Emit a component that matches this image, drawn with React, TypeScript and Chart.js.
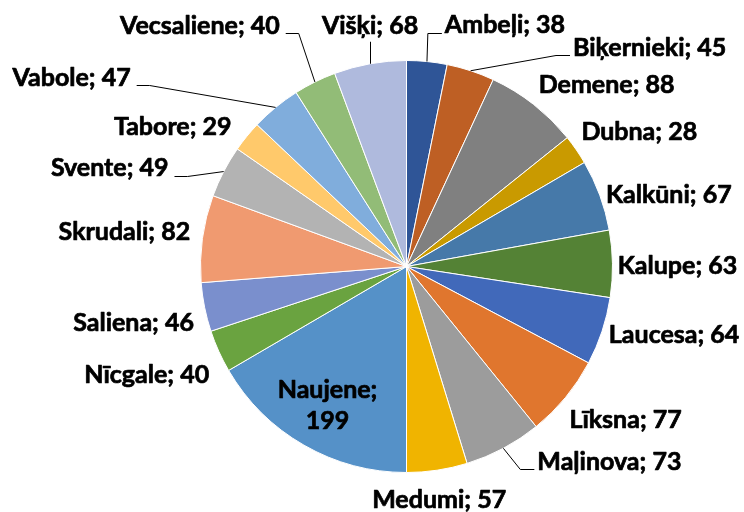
import React, { useEffect, useRef } from "react";
import { Chart, registerables } from "chart.js";

Chart.register(...registerables);

const categories = [
  "Ambeļi", "Biķernieki", "Demene", "Dubna", "Kalkūni", "Kalupe", "Laucesa",
  "Līksna", "Maļinova", "Medumi", "Naujene", "Nīcgale", "Saliena", "Skrudali",
  "Svente", "Tabore", "Vabole", "Vecsaliene", "Višķi",
];
const values = [38, 45, 88, 28, 67, 63, 64, 77, 73, 57, 199, 40, 46, 82, 49, 29, 47, 40, 68];
const colors = [
  "#2F5597", "#BE5F24", "#808080", "#C99A00", "#4679A9", "#548235", "#4169BA",
  "#E0762E", "#9C9C9C", "#F0B400", "#5591C8", "#6AA340", "#7A8FCD", "#F09A70",
  "#B3B3B3", "#FFC96B", "#80ADDC", "#92BC77", "#AFBADD",
];

// label layout (offset of label centre from the slice's outer mid-point) and leader style
const labelDx = [78, 179, 73, 63, 69, 65, 72, 60, 106, 2, 0, -72, -71, -78, -114, -74, -204, -115, 0];
const labelDy = [-37, -24, -20, -19, -1, 1, 3, 22, 13, 29, 0, 23, 15, -7, -4, -10, -30, -57, -39];
const leader = [
  "right", "right", "", "", "", "", "", "", "right", "", "inside", "", "", "",
  "left", "", "left", "left", "up",
];

const FONT_SIZE = 25;
const FONT = `bold ${FONT_SIZE}px Lato`;

const labelPlugin = {
  id: "pieLabels",
  afterDatasetsDraw(chart: any) {
    const ctx = chart.ctx as CanvasRenderingContext2D;
    const meta = chart.getDatasetMeta(0);
    ctx.save();
    ctx.font = FONT;
    ctx.fillStyle = "#000";
    ctx.strokeStyle = "#000";
    ctx.lineJoin = "round";
    ctx.textAlign = "center";
    ctx.textBaseline = "alphabetic";
    const capHalf = FONT_SIZE * 0.358;
    const drawText = (t: string, x: number, y: number) => {
      ctx.lineWidth = 0.7;
      ctx.fillText(t, x, y);
      ctx.strokeText(t, x, y);
    };
    meta.data.forEach((arc: any, i: number) => {
      const p = arc.getProps(["x", "y", "startAngle", "endAngle", "outerRadius"], true);
      const mid = (p.startAngle + p.endAngle) / 2;
      const ax = p.x + Math.cos(mid) * p.outerRadius;
      const ay = p.y + Math.sin(mid) * p.outerRadius;
      if (leader[i] === "inside") {
        const r = p.outerRadius * 0.77;
        const cx = p.x + Math.cos(mid) * r;
        const cy = p.y + Math.sin(mid) * r;
        drawText(categories[i] + ";", cx, cy - 15.5 + capHalf);
        drawText(String(values[i]), cx, cy + 15.5 + capHalf);
        return;
      }
      const text = `${categories[i]}; ${values[i]}`;
      const cx = ax + labelDx[i];
      const cy = ay + labelDy[i];
      const w = ctx.measureText(text).width;
      drawText(text, cx, cy + capHalf);
      ctx.lineWidth = 1;
      const ly = Math.round(cy + 8) + 0.5;
      if (leader[i] === "right") {
        const ex = cx - w / 2 - 3;
        ctx.beginPath();
        ctx.moveTo(ax, ay);
        ctx.lineTo(ex - 14, ly);
        ctx.lineTo(ex, ly);
        ctx.stroke();
      } else if (leader[i] === "left") {
        const ex = cx + w / 2 + 6;
        ctx.beginPath();
        ctx.moveTo(ax, ay);
        ctx.lineTo(ex + 13, ly);
        ctx.lineTo(ex, ly);
        ctx.stroke();
      } else if (leader[i] === "up") {
        const x = Math.round(ax) + 0.5;
        ctx.beginPath();
        ctx.moveTo(x, ay);
        ctx.lineTo(x, cy + 17);
        ctx.stroke();
      }
    });
    ctx.restore();
  },
};

export default function App() {
  const ref = useRef<HTMLCanvasElement>(null);
  useEffect(() => {
    if (!ref.current) return;
    const chart = new Chart(ref.current, {
      type: "pie",
      data: {
        labels: categories,
        datasets: [
          {
            data: values,
            backgroundColor: colors,
            borderColor: "#FFFFFF",
            borderWidth: 1,
          },
        ],
      },
      options: {
        animation: false,
        responsive: false,
        devicePixelRatio: 1,
        layout: { padding: { left: 200, right: 131, top: 60, bottom: 39 } },
        plugins: {
          legend: { display: false },
          tooltip: { enabled: false },
        },
      },
      plugins: [labelPlugin],
    });
    return () => chart.destroy();
  }, []);
  return (
    <div style={{ position: "fixed", left: 0, top: 0, width: 744, height: 512, background: "#fff" }}>
      <canvas ref={ref} width={744} height={512} />
    </div>
  );
}
